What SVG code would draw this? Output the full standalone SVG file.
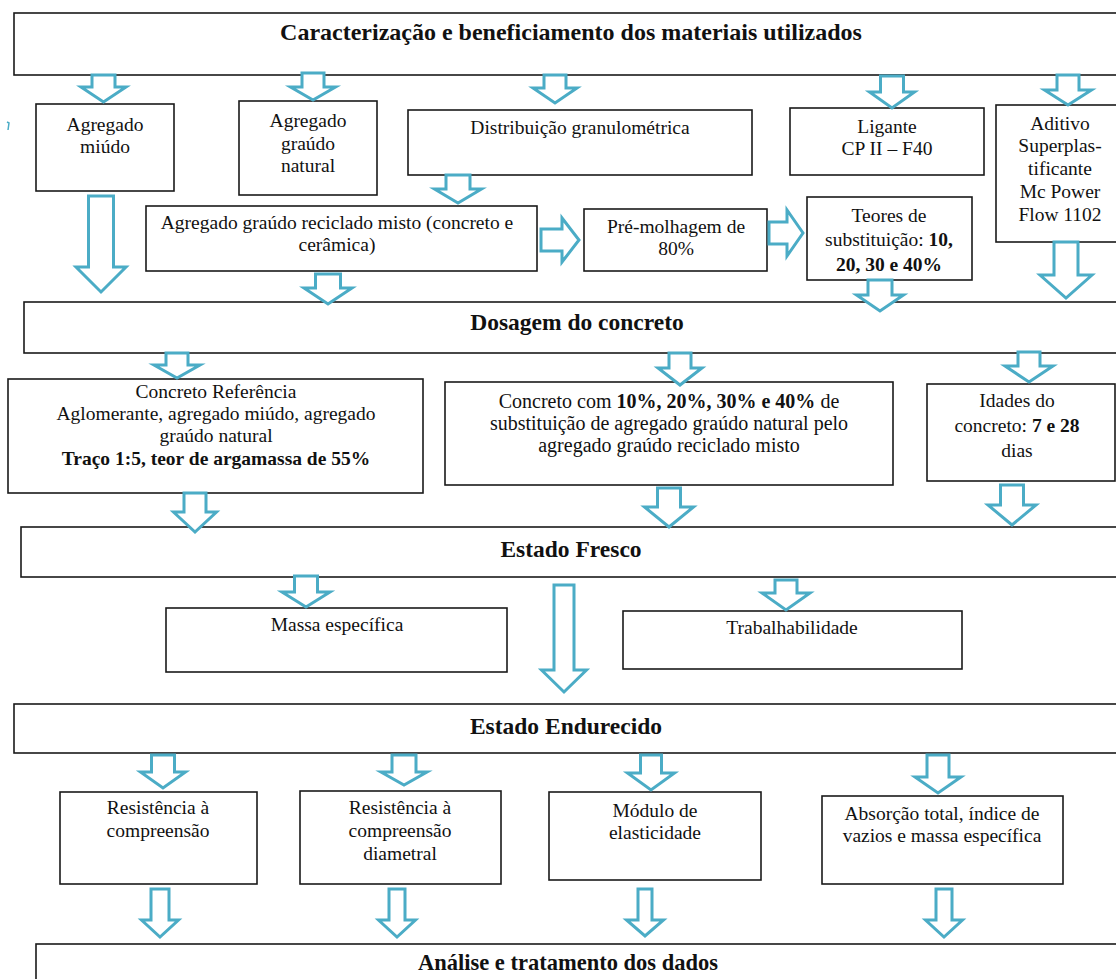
<svg xmlns="http://www.w3.org/2000/svg" width="1116" height="979" viewBox="0 0 1116 979">
<style>
.box{fill:#fff;stroke:#1a1a1a;stroke-width:1.6}
.arr{fill:#fff;stroke:#4BACC6;stroke-width:3;stroke-linejoin:miter}
text{font-family:"Liberation Serif","Times New Roman",serif;fill:#111;text-anchor:middle}
.t{font-size:19.5px}
.h{font-size:23.5px;font-weight:bold}
.b{font-weight:bold}
</style>
<rect width="1116" height="979" fill="#fff"/>
<path d="M7,122 L9,123 L8,130" fill="none" stroke="#4BACC6" stroke-width="1.5"/>

<g id="n-caracterizacao"><rect class="box" x="14" y="13" width="1110" height="62"/><text class="h" x="571" y="40" style="font-size:24px">Caracterização e beneficiamento dos materiais utilizados</text></g>
<g id="n-miudo"><rect class="box" x="36" y="104" width="138" height="87"/><text class="t" x="105" y="131">Agregado</text><text class="t" x="105" y="153">miúdo</text></g>
<g id="n-graudo"><rect class="box" x="239" y="101" width="138" height="94"/><text class="t" x="308" y="127">Agregado</text><text class="t" x="308" y="150">graúdo</text><text class="t" x="308" y="172">natural</text></g>
<g id="n-distribuicao"><rect class="box" x="408" y="110" width="344" height="65"/><text class="t" x="580" y="134">Distribuição granulométrica</text></g>
<g id="n-ligante"><rect class="box" x="790" y="108" width="194" height="67"/><text class="t" x="887" y="133">Ligante</text><text class="t" x="887" y="155">CP II – F40</text></g>
<g id="n-aditivo"><rect class="box" x="996" y="105" width="130" height="137"/><text class="t" x="1060" y="130">Aditivo</text><text class="t" x="1060" y="152">Superplas-</text><text class="t" x="1060" y="175">tificante</text><text class="t" x="1060" y="198">Mc Power</text><text class="t" x="1060" y="221">Flow 1102</text></g>
<g id="n-reciclado"><rect class="box" x="146" y="206" width="391" height="65"/><text class="t" x="337" y="229">Agregado graúdo reciclado misto (concreto e</text><text class="t" x="337" y="251">cerâmica)</text></g>
<g id="n-premolhagem"><rect class="box" x="584" y="209" width="183" height="62"/><text class="t" x="676" y="233">Pré-molhagem de</text><text class="t" x="676" y="255">80%</text></g>
<g id="n-teores"><rect class="box" x="807" y="197" width="165" height="83"/><text class="t" x="889" y="222">Teores de</text><text class="t" x="889" y="246">substituição: <tspan class="b">10,</tspan></text><text class="t b" x="889" y="271">20, 30 e 40%</text></g>
<g id="n-dosagem"><rect class="box" x="24" y="302" width="1100" height="51"/><text class="h" x="577" y="330">Dosagem do concreto</text></g>
<g id="n-referencia"><rect class="box" x="8" y="379" width="415" height="114"/><text class="t" x="216" y="398">Concreto Referência</text><text class="t" x="216" y="420">Aglomerante, agregado miúdo, agregado</text><text class="t" x="216" y="442">graúdo natural</text><text class="t b" x="216" y="465">Traço 1:5, teor de argamassa de 55%</text></g>
<g id="n-concreto-com"><rect class="box" x="445" y="382" width="448" height="103"/><text class="t" x="669" y="408" style="font-size:20px">Concreto com <tspan class="b">10%, 20%, 30% e 40%</tspan> de</text><text class="t" x="669" y="430" style="font-size:20px">substituição de agregado graúdo natural pelo</text><text class="t" x="669" y="452" style="font-size:20px">agregado graúdo reciclado misto</text></g>
<g id="n-idades"><rect class="box" x="927" y="384" width="188" height="97"/><text class="t" x="1017" y="407">Idades do</text><text class="t" x="1017" y="432">concreto: <tspan class="b">7 e 28</tspan></text><text class="t" x="1017" y="457">dias</text></g>
<g id="n-fresco"><rect class="box" x="21" y="527" width="1103" height="50"/><text class="h" x="571" y="557">Estado Fresco</text></g>
<g id="n-massa"><rect class="box" x="166" y="608" width="341" height="64"/><text class="t" x="337" y="631">Massa específica</text></g>
<g id="n-trabalhabilidade"><rect class="box" x="623" y="611" width="339" height="58"/><text class="t" x="792" y="634">Trabalhabilidade</text></g>
<g id="n-endurecido"><rect class="box" x="14" y="704" width="1110" height="49"/><text class="h" x="566" y="734">Estado Endurecido</text></g>
<g id="n-compressao"><rect class="box" x="60" y="792" width="197" height="92"/><text class="t" x="158" y="814">Resistência à</text><text class="t" x="158" y="837">compreensão</text></g>
<g id="n-diametral"><rect class="box" x="300" y="791" width="201" height="93"/><text class="t" x="400" y="814">Resistência à</text><text class="t" x="400" y="837">compreensão</text><text class="t" x="400" y="860">diametral</text></g>
<g id="n-modulo"><rect class="box" x="549" y="792" width="212" height="88"/><text class="t" x="655" y="817">Módulo de</text><text class="t" x="655" y="839">elasticidade</text></g>
<g id="n-absorcao"><rect class="box" x="822" y="796" width="241" height="88"/><text class="t" x="942" y="820">Absorção total, índice de</text><text class="t" x="942" y="842">vazios e massa específica</text></g>
<g id="n-analise"><rect class="box" x="36" y="944" width="1090" height="50"/><text class="h" x="568" y="970" style="font-size:22.5px">Análise e tratamento dos dados</text></g>

<g id="connectors">
<path class="arr" d="M92,75 H115 V87 H126 L103.5,102 L81,87 H92 Z"/>
<path class="arr" d="M302,73 H324 V87 H335.5 L313,100 L290.5,87 H302 Z"/>
<path class="arr" d="M544,75 H566 V88 H577 L555,103 L533,88 H544 Z"/>
<path class="arr" d="M880.5,76 H903.5 V92 H914.5 L892,108 L869.5,92 H880.5 Z"/>
<path class="arr" d="M1057,75 H1079 V90 H1091.5 L1068,105 L1044.5,90 H1057 Z"/>
<path class="arr" d="M88.5,196 H113.5 V267 H126 L101,292 L76,267 H88.5 Z"/>
<path class="arr" d="M446,175 H470 V189 H481.5 L458,203 L434.5,189 H446 Z"/>
<path class="arr" d="M541,229 H562 V218 L579,240 L562,262 V251 H541 Z"/>
<path class="arr" d="M769,222 H787 V210 L803,233 L787,256 V244 H769 Z"/>
<path class="arr" d="M315.5,274 H340.5 V288 H352 L328,304 L304,288 H315.5 Z"/>
<path class="arr" d="M868,280 H892 V295 H903.5 L880,311 L856.5,295 H868 Z"/>
<path class="arr" d="M1054,242 H1078 V275 H1092 L1066,298 L1040,275 H1054 Z"/>
<path class="arr" d="M166,353 H188 V365 H200 L177,378 L154,365 H166 Z"/>
<path class="arr" d="M669,353 H691 V368 H702 L680,385 L658,368 H669 Z"/>
<path class="arr" d="M1018,352 H1040 V366 H1053 L1029,382 L1005,366 H1018 Z"/>
<path class="arr" d="M184,493 H206 V512 H216.5 L195,532 L173.5,512 H184 Z"/>
<path class="arr" d="M657.5,488 H680.5 V507 H693.5 L669,527 L644.5,507 H657.5 Z"/>
<path class="arr" d="M1000.5,485 H1023.5 V505 H1036 L1012,525 L988,505 H1000.5 Z"/>
<path class="arr" d="M294.5,576 H317.5 V592 H330 L306,607 L282,592 H294.5 Z"/>
<path class="arr" d="M775,580 H797 V593 H810 L786,610 L762,593 H775 Z"/>
<path class="arr" d="M554,585 H574 V670 H586.5 L564,692 L541.5,670 H554 Z"/>
<path class="arr" d="M151.5,755 H174.5 V772 H185.5 L163,788 L140.5,772 H151.5 Z"/>
<path class="arr" d="M392,755 H416 V772 H427 L404,785 L381,772 H392 Z"/>
<path class="arr" d="M640.5,755 H661.5 V773 H674.5 L651,790 L627.5,773 H640.5 Z"/>
<path class="arr" d="M927,755 H949 V777 H961 L938,793 L915,777 H927 Z"/>
<path class="arr" d="M151,889 H169 V920 H178.5 L160,937 L141.5,920 H151 Z"/>
<path class="arr" d="M389,889 H405 V920 H415.5 L397,937 L378.5,920 H389 Z"/>
<path class="arr" d="M638,889 H652 V920 H663.5 L645,936 L626.5,920 H638 Z"/>
<path class="arr" d="M936,889 H952 V920 H962.5 L944,937 L925.5,920 H936 Z"/>
</g>
</svg>
